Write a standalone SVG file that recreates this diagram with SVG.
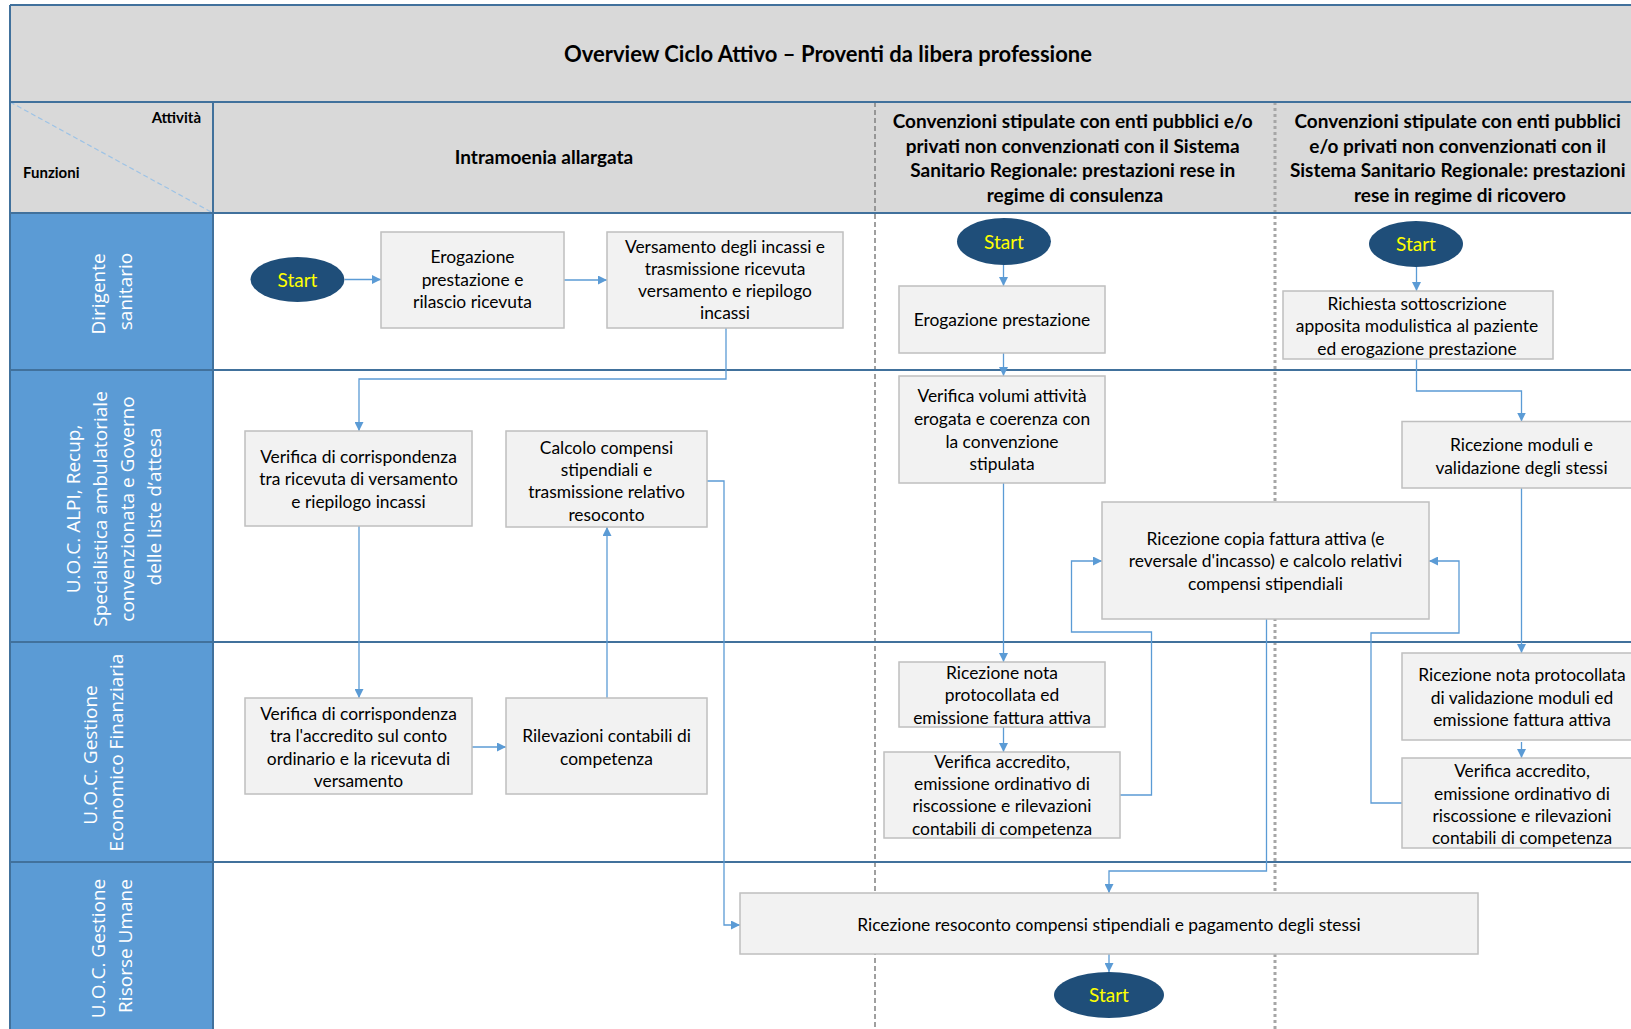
<svg xmlns="http://www.w3.org/2000/svg" width="1631" height="1029" viewBox="0 0 1631 1029">
  <style>
    .bg { fill: #ffffff; }
    .hdr-bg { fill: #d9d9d9; }
    .lane-bg { fill: #5b9bd5; }
    .grid { stroke: #41719c; stroke-width: 2; fill: none; }
    .div-dash { stroke: #808080; stroke-width: 1.5; stroke-dasharray: 5 3; fill: none; }
    .div-dot { stroke: #a6a6a6; stroke-width: 3; stroke-dasharray: 3 3; fill: none; }
    .diag { stroke: #9dc3e6; stroke-width: 1.2; stroke-dasharray: 5 3; fill: none; }
    .box { fill: #f2f2f2; stroke: #bfbfbf; stroke-width: 1.5; }
    .start { fill: #1f4e79; }
    .t { font-family: Lato, "Liberation Sans", sans-serif; font-size: 17.4px; fill: #000000; text-anchor: middle; }
    .st { font-family: Lato, "Liberation Sans", sans-serif; font-size: 19px; fill: #ffff00; text-anchor: middle; }
    .h { font-family: Lato, "Liberation Sans", sans-serif; font-size: 19px; font-weight: bold; fill: #000000; text-anchor: middle; }
    .title { font-family: Lato, "Liberation Sans", sans-serif; font-size: 22px; font-weight: bold; fill: #000000; text-anchor: middle; }
    .small { font-family: Lato, "Liberation Sans", sans-serif; font-size: 15px; font-weight: bold; fill: #000000; }
    .lane-t { font-family: "Open Sans", "DejaVu Sans", sans-serif; font-size: 19px; fill: #ffffff; text-anchor: middle; }
    .conn { fill: none; stroke: #5b9bd5; stroke-width: 1.3; marker-end: url(#arr); }
  </style>
  <defs>
    <marker id="arr" viewBox="0 0 10 10" refX="10" refY="5" markerWidth="9" markerHeight="9" markerUnits="userSpaceOnUse" orient="auto">
      <path d="M0,0 L10,5 L0,10 z" fill="#5b9bd5"/>
    </marker>
  </defs>

  <rect class="bg" x="0" y="0" width="1631" height="1029"/>

  <!-- Frame: title bar, header row, function column -->
  <g id="frame">
    <rect class="hdr-bg" x="10" y="5" width="1621" height="97"/>
    <rect class="hdr-bg" x="10" y="102" width="1621" height="111"/>
    <rect class="lane-bg" x="10" y="213" width="203" height="816"/>
    <line class="diag" x1="10" y1="102" x2="213" y2="213"/>
    <line class="div-dash" x1="875" y1="102" x2="875" y2="1029"/>
    <line class="div-dot" x1="1275" y1="102" x2="1275" y2="1029"/>
    <line class="grid" x1="10" y1="5" x2="1631" y2="5"/>
    <line class="grid" x1="10" y1="102" x2="1631" y2="102"/>
    <line class="grid" x1="10" y1="213" x2="1631" y2="213"/>
    <line class="grid" x1="10" y1="370" x2="1631" y2="370"/>
    <line class="grid" x1="10" y1="642" x2="1631" y2="642"/>
    <line class="grid" x1="10" y1="862" x2="1631" y2="862"/>
    <line class="grid" x1="10" y1="5" x2="10" y2="1029"/>
    <line class="grid" x1="213" y1="102" x2="213" y2="1029"/>
    <text class="title" x="828" y="62">Overview Ciclo Attivo – Proventi da libera professione</text>
    <text class="small" x="201" y="123" text-anchor="end">Attività</text>
    <text class="small" x="23" y="178">Funzioni</text>
    <text class="h" x="544" y="164">Intramoenia allargata</text>
    <text class="h" x="1075">
      <tspan x="1075" y="128">Convenzioni stipulate con enti pubblici e/o</tspan>
      <tspan x="1075" y="153">privati non convenzionati con il Sistema</tspan>
      <tspan x="1075" y="177">Sanitario Regionale: prestazioni rese in</tspan>
      <tspan x="1075" y="202">regime di consulenza</tspan>
    </text>
    <text class="h" x="1460">
      <tspan x="1460" y="128">Convenzioni stipulate con enti pubblici</tspan>
      <tspan x="1460" y="153">e/o privati non convenzionati con il</tspan>
      <tspan x="1460" y="177">Sistema Sanitario Regionale: prestazioni</tspan>
      <tspan x="1460" y="202">rese in regime di ricovero</tspan>
    </text>
  </g>

  <!-- Swimlane labels -->
  <g id="lane-dirigente">
    <text class="lane-t" transform="translate(111.5,291.5) rotate(-90)">
      <tspan x="0" y="-7">Dirigente</tspan>
      <tspan x="0" y="20">sanitario</tspan>
    </text>
  </g>
  <g id="lane-alpi">
    <text class="lane-t" transform="translate(111.5,506.5) rotate(-90)">
      <tspan x="0" y="-32">U.O.C. ALPI, Recup,</tspan>
      <tspan x="0" y="-5">Specialistica ambulatoriale</tspan>
      <tspan x="0" y="22">convenzionata e Governo</tspan>
      <tspan x="0" y="49">delle liste d’attesa</tspan>
    </text>
  </g>
  <g id="lane-gef">
    <text class="lane-t" transform="translate(111.5,752.5) rotate(-90)">
      <tspan x="0" y="-15">U.O.C. Gestione</tspan>
      <tspan x="0" y="11.5">Economico Finanziaria</tspan>
    </text>
  </g>
  <g id="lane-gru">
    <text class="lane-t" transform="translate(111.5,946) rotate(-90)">
      <tspan x="0" y="-6.5">U.O.C. Gestione</tspan>
      <tspan x="0" y="20">Risorse Umane</tspan>
    </text>
  </g>

  <!-- Connectors -->
  <g id="connectors">
    <path class="conn" d="M345,279.5 H381"/>
    <path class="conn" d="M564,280 H607"/>
    <path class="conn" d="M726,328 V379 H359 V431"/>
    <path class="conn" d="M359,526 V698"/>
    <path class="conn" d="M472,747 H506"/>
    <path class="conn" d="M607,698 V527"/>
    <path class="conn" d="M707,481 H724 V925 H740"/>
    <path class="conn" d="M1003.5,265 V286"/>
    <path class="conn" d="M1003.5,353 V376"/>
    <path class="conn" d="M1003.5,483 V662"/>
    <path class="conn" d="M1003.5,727 V752"/>
    <path class="conn" d="M1120,795 H1151.5 V632 H1071.5 V561 H1102"/>
    <path class="conn" d="M1402,803 H1371 V633 H1459 V561 H1429"/>
    <path class="conn" d="M1266.5,619 V871 H1109 V893"/>
    <path class="conn" d="M1109,954 V972"/>
    <path class="conn" d="M1416.5,267 V291"/>
    <path class="conn" d="M1416.5,359 V391 H1521.5 V421.5"/>
    <path class="conn" d="M1521.5,488 V653"/>
    <path class="conn" d="M1521.5,742 V758"/>
  </g>

  <!-- Intramoenia allargata -->
  <g id="start-intramoenia">
    <ellipse class="start" cx="297.5" cy="279.5" rx="47" ry="22.5"/>
    <text class="st" x="297.5" y="286.5">Start</text>
  </g>
  <g id="erogazione-rilascio">
    <rect class="box" x="381" y="232" width="183" height="96"/>
    <text class="t"><tspan x="472.5" y="263">Erogazione</tspan><tspan x="472.5" y="285.5">prestazione e</tspan><tspan x="472.5" y="308">rilascio ricevuta</tspan></text>
  </g>
  <g id="versamento-incassi">
    <rect class="box" x="607" y="232" width="236" height="96"/>
    <text class="t"><tspan x="725" y="252.5">Versamento degli incassi e</tspan><tspan x="725" y="274.5">trasmissione ricevuta</tspan><tspan x="725" y="296.5">versamento e riepilogo</tspan><tspan x="725" y="319">incassi</tspan></text>
  </g>
  <g id="verifica-ricevuta">
    <rect class="box" x="245" y="431" width="227" height="95"/>
    <text class="t"><tspan x="358.5" y="462.5">Verifica di corrispondenza</tspan><tspan x="358.5" y="485">tra ricevuta di versamento</tspan><tspan x="358.5" y="507.5">e riepilogo incassi</tspan></text>
  </g>
  <g id="calcolo-compensi">
    <rect class="box" x="506" y="431" width="201" height="96"/>
    <text class="t"><tspan x="606.5" y="453.5">Calcolo compensi</tspan><tspan x="606.5" y="476">stipendiali e</tspan><tspan x="606.5" y="498">trasmissione relativo</tspan><tspan x="606.5" y="520.5">resoconto</tspan></text>
  </g>
  <g id="verifica-accredito-conto">
    <rect class="box" x="245" y="698" width="227" height="96"/>
    <text class="t"><tspan x="358.5" y="719.5">Verifica di corrispondenza</tspan><tspan x="358.5" y="742">tra l'accredito sul conto</tspan><tspan x="358.5" y="764.5">ordinario e la ricevuta di</tspan><tspan x="358.5" y="787">versamento</tspan></text>
  </g>
  <g id="rilevazioni-contabili">
    <rect class="box" x="506" y="698" width="201" height="96"/>
    <text class="t"><tspan x="606.5" y="742">Rilevazioni contabili di</tspan><tspan x="606.5" y="765">competenza</tspan></text>
  </g>

  <!-- Convenzioni: regime di consulenza -->
  <g id="start-consulenza">
    <ellipse class="start" cx="1004" cy="241.5" rx="47" ry="23.5"/>
    <text class="st" x="1004" y="248.5">Start</text>
  </g>
  <g id="erogazione-consulenza">
    <rect class="box" x="899" y="286" width="206" height="67"/>
    <text class="t" x="1002" y="325.5">Erogazione prestazione</text>
  </g>
  <g id="verifica-volumi">
    <rect class="box" x="899" y="376" width="206" height="107"/>
    <text class="t"><tspan x="1002" y="401.5">Verifica volumi attività</tspan><tspan x="1002" y="425">erogata e coerenza con</tspan><tspan x="1002" y="447.5">la convenzione</tspan><tspan x="1002" y="470">stipulata</tspan></text>
  </g>
  <g id="ricezione-nota-consulenza">
    <rect class="box" x="899" y="662" width="206" height="65"/>
    <text class="t"><tspan x="1002" y="678.5">Ricezione nota</tspan><tspan x="1002" y="701">protocollata ed</tspan><tspan x="1002" y="723.5">emissione fattura attiva</tspan></text>
  </g>
  <g id="verifica-accredito-consulenza">
    <rect class="box" x="884" y="752" width="236" height="86"/>
    <text class="t"><tspan x="1002" y="767.5">Verifica accredito,</tspan><tspan x="1002" y="790">emissione ordinativo di</tspan><tspan x="1002" y="812">riscossione e rilevazioni</tspan><tspan x="1002" y="834.5">contabili di competenza</tspan></text>
  </g>
  <g id="ricezione-copia-fattura">
    <rect class="box" x="1102" y="502" width="327" height="117"/>
    <text class="t"><tspan x="1265.5" y="544.5">Ricezione copia fattura attiva (e</tspan><tspan x="1265.5" y="567">reversale d'incasso) e calcolo relativi</tspan><tspan x="1265.5" y="589.5">compensi stipendiali</tspan></text>
  </g>
  <g id="ricezione-resoconto">
    <rect class="box" x="740" y="893" width="738" height="61"/>
    <text class="t" x="1109" y="931">Ricezione resoconto compensi stipendiali e pagamento degli stessi</text>
  </g>
  <g id="start-end">
    <ellipse class="start" cx="1109" cy="995" rx="55" ry="23"/>
    <text class="st" x="1109" y="1002">Start</text>
  </g>

  <!-- Convenzioni: regime di ricovero -->
  <g id="start-ricovero">
    <ellipse class="start" cx="1416" cy="244" rx="47" ry="23"/>
    <text class="st" x="1416" y="251">Start</text>
  </g>
  <g id="richiesta-sottoscrizione">
    <rect class="box" x="1283" y="291" width="270" height="68"/>
    <text class="t"><tspan x="1417" y="309.5">Richiesta sottoscrizione</tspan><tspan x="1417" y="332">apposita modulistica al paziente</tspan><tspan x="1417" y="354.5">ed erogazione prestazione</tspan></text>
  </g>
  <g id="ricezione-moduli">
    <rect class="box" x="1402" y="421.5" width="241" height="66.5"/>
    <text class="t"><tspan x="1521.5" y="450.5">Ricezione moduli e</tspan><tspan x="1521.5" y="473.5">validazione degli stessi</tspan></text>
  </g>
  <g id="ricezione-nota-ricovero">
    <rect class="box" x="1402" y="653" width="241" height="87"/>
    <text class="t"><tspan x="1522" y="681">Ricezione nota protocollata</tspan><tspan x="1522" y="703.5">di validazione moduli ed</tspan><tspan x="1522" y="726">emissione fattura attiva</tspan></text>
  </g>
  <g id="verifica-accredito-ricovero">
    <rect class="box" x="1402" y="758" width="241" height="90"/>
    <text class="t"><tspan x="1522" y="776.5">Verifica accredito,</tspan><tspan x="1522" y="799.5">emissione ordinativo di</tspan><tspan x="1522" y="821.5">riscossione e rilevazioni</tspan><tspan x="1522" y="844">contabili di competenza</tspan></text>
  </g>
</svg>
